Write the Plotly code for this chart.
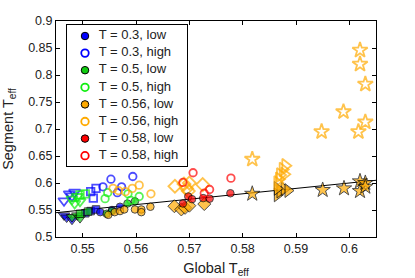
import plotly.graph_objects as go

# ---- data: (global T_eff, segment T_eff, segment type) per group ----
t03_low_x = [0.5465, 0.547, 0.548, 0.5505, 0.5515, 0.5525, 0.5533, 0.5555, 0.557]
t03_low_y = [0.540, 0.536, 0.532, 0.544, 0.548, 0.551, 0.546, 0.550, 0.556]
t03_low_seg = ["c", "c", "c", "b", "b", "b", "a", "a", "a"]

t03_high_x = [0.5465, 0.5475, 0.548, 0.5485, 0.5515, 0.552, 0.5525, 0.5538, 0.5553, 0.5573, 0.5594, 0.5565]
t03_high_y = [0.567, 0.580, 0.576, 0.583, 0.584, 0.572, 0.590, 0.593, 0.607, 0.593, 0.612, 0.582]
t03_high_seg = ["c", "c", "c", "c", "b", "b", "b", "a", "a", "a", "a", "a"]

t05_low_x = [0.548, 0.549, 0.5495, 0.5495, 0.551, 0.5545, 0.5555, 0.5584, 0.5598]
t05_low_y = [0.537, 0.540, 0.535, 0.543, 0.547, 0.543, 0.548, 0.562, 0.566]
t05_low_seg = ["c", "c", "c", "b", "b", "a", "a", "a", "a"]

t05_high_x = [0.548, 0.5485, 0.549, 0.5495, 0.5495, 0.5505, 0.5542, 0.5547, 0.559, 0.5606, 0.5585]
t05_high_y = [0.570, 0.562, 0.575, 0.566, 0.578, 0.580, 0.571, 0.582, 0.568, 0.575, 0.580]
t05_high_seg = ["c", "c", "c", "c", "b", "b", "a", "a", "a", "a", "a"]

t056_low_x = [0.5548, 0.556, 0.557, 0.5578, 0.5598, 0.561, 0.5627, 0.561,
              0.5672, 0.5685, 0.5692, 0.570, 0.5728,
              0.5865, 0.587, 0.5878, 0.5885, 0.5865,
              0.5818, 0.5950, 0.599, 0.602, 0.602, 0.603, 0.603]
t056_low_y = [0.541, 0.546, 0.548, 0.551, 0.551, 0.551, 0.556, 0.546,
              0.557, 0.551, 0.554, 0.558, 0.561,
              0.578, 0.585, 0.589, 0.586, 0.590,
              0.580, 0.587, 0.590, 0.603, 0.585, 0.600, 0.593]
t056_low_seg = ["a"] * 8 + ["d"] * 5 + ["e"] * 5 + ["f"] * 7

t056_high_x = [0.5557, 0.5567, 0.558, 0.5593, 0.5606, 0.5628,
               0.5673, 0.5725, 0.569, 0.5695, 0.570, 0.5698,
               0.5865, 0.587, 0.5875, 0.588, 0.5878, 0.5868,
               0.5818, 0.5948, 0.5989, 0.602, 0.602, 0.603, 0.603, 0.6017]
t056_high_y = [0.590, 0.586, 0.584, 0.590, 0.596, 0.580,
               0.594, 0.597, 0.598, 0.590, 0.600, 0.585,
               0.600, 0.615, 0.625, 0.632, 0.616, 0.607,
               0.644, 0.695, 0.732, 0.846, 0.820, 0.783, 0.713, 0.695]
t056_high_seg = ["a"] * 6 + ["d"] * 6 + ["e"] * 6 + ["f"] * 8

t058_low_x = [0.5688, 0.5698, 0.5705, 0.5726, 0.5738, 0.5777]
t058_low_y = [0.562, 0.575, 0.570, 0.572, 0.571, 0.581]
t058_low_seg = ["a"] * 6

t058_high_x = [0.5688, 0.5707, 0.5728, 0.5738, 0.5778]
t058_high_y = [0.601, 0.619, 0.581, 0.588, 0.609]
t058_high_seg = ["a"] * 5

line_x = [0.545, 0.605]
line_y = [0.545, 0.605]

x_ticks = [0.55, 0.56, 0.57, 0.58, 0.59, 0.6]
x_tick_labels = ["0.55", "0.56", "0.57", "0.58", "0.59", "0.6"]
y_ticks = [0.5, 0.55, 0.6, 0.65, 0.7, 0.75, 0.8, 0.85, 0.9]
y_tick_labels = ["0.5", "0.55", "0.6", "0.65", "0.7", "0.75", "0.8", "0.85", "0.9"]

# ---- styles ----
symbol_map = {"a": "circle", "b": "square", "c": "triangle-down",
              "d": "diamond", "e": "triangle-right", "f": "star"}
size_map = {"a": 7.5, "b": 7.5, "c": 10, "d": 10, "e": 12, "f": 11.5}

groups = [
    ("T = 0.3, low", t03_low_x, t03_low_y, t03_low_seg, "#0000ff", True),
    ("T = 0.3, high", t03_high_x, t03_high_y, t03_high_seg, "#0000ff", False),
    ("T = 0.5, low", t05_low_x, t05_low_y, t05_low_seg, "#11cc11", True),
    ("T = 0.5, high", t05_high_x, t05_high_y, t05_high_seg, "#11ee11", False),
    ("T = 0.56, low", t056_low_x, t056_low_y, t056_low_seg, "#ffaa00", True),
    ("T = 0.56, high", t056_high_x, t056_high_y, t056_high_seg, "#ffaa00", False),
    ("T = 0.58, low", t058_low_x, t058_low_y, t058_low_seg, "#ff0000", True),
    ("T = 0.58, high", t058_high_x, t058_high_y, t058_high_seg, "#ff0000", False),
]

FONT = "Liberation Sans, Arial, sans-serif"
fig = go.Figure()

fig.add_trace(go.Scatter(x=line_x, y=line_y, mode="lines",
                         line=dict(color="black", width=1), showlegend=False,
                         hoverinfo="skip"))

for name, xs, ys, segs, color, filled in groups:
    symbols = [symbol_map[s] for s in segs]
    sizes = [size_map[s] for s in segs]
    if filled:
        marker = dict(symbol=symbols, size=sizes, color=color,
                      line=dict(color="black", width=1))
    else:
        marker = dict(symbol=[s + "-open" for s in symbols], size=sizes,
                      color=color, line=dict(color=color, width=1.8))
    fig.add_trace(go.Scatter(x=xs, y=ys, mode="markers", marker=marker,
                             name=name, showlegend=False))

# ---- legend box drawn in its own small axes (units: pixels inside the box) ----
LEG_W, LEG_H = 120, 141
leg_row0, leg_step = 11, 17.1
for i, (name, xs, ys, segs, color, filled) in enumerate(groups):
    yy = leg_row0 + i * leg_step
    if filled:
        marker = dict(symbol="circle", size=7.5, color=color,
                      line=dict(color="black", width=1))
    else:
        marker = dict(symbol="circle-open", size=7.5, color=color,
                      line=dict(color=color, width=1.8))
    fig.add_trace(go.Scatter(x=[18.3], y=[yy], mode="markers", marker=marker,
                             xaxis="x2", yaxis="y2", showlegend=False,
                             hoverinfo="skip"))
    fig.add_trace(go.Scatter(x=[32], y=[yy], mode="text", text=[name],
                             textposition="middle right",
                             textfont=dict(size=13, color="#222", family=FONT),
                             xaxis="x2", yaxis="y2", showlegend=False,
                             hoverinfo="skip", cliponaxis=False))

axis_common = dict(showline=True, linecolor="black", linewidth=1, mirror="ticks",
                   ticks="inside", ticklen=4, tickcolor="black", showgrid=False,
                   zeroline=False, tickfont=dict(size=12.5, color="#222"),
                   automargin=False)

fig.update_layout(
    width=415, height=278,
    margin=dict(l=56, r=39, t=21, b=41),
    paper_bgcolor="white", plot_bgcolor="white",
    font=dict(family=FONT, color="#222"),
    xaxis=dict(range=[0.545, 0.605], tickvals=x_ticks, ticktext=x_tick_labels,
               title=dict(text="Global T<sub>eff</sub>", font=dict(size=14.5)),
               **axis_common),
    yaxis=dict(range=[0.5, 0.9], tickvals=y_ticks, ticktext=y_tick_labels,
               title=dict(text="Segment T<sub>eff</sub>", font=dict(size=14.5)),
               **axis_common),
    xaxis2=dict(domain=[(66.7 - 56) / 320, (186.7 - 56) / 320], range=[0, LEG_W],
                anchor="y2", showline=True, linecolor="black", linewidth=1,
                mirror=True, showticklabels=False, ticks="", showgrid=False,
                zeroline=False, fixedrange=True),
    yaxis2=dict(domain=[(237 - 166) / 216, (237 - 25) / 216], range=[LEG_H, 0],
                anchor="x2", showline=True, linecolor="black", linewidth=1,
                mirror=True, showticklabels=False, ticks="", showgrid=False,
                zeroline=False, fixedrange=True),
    showlegend=False,
)

fig.write_html("out.html", config={"displayModeBar": False},
               post_script="document.body.style.margin='0px';")
